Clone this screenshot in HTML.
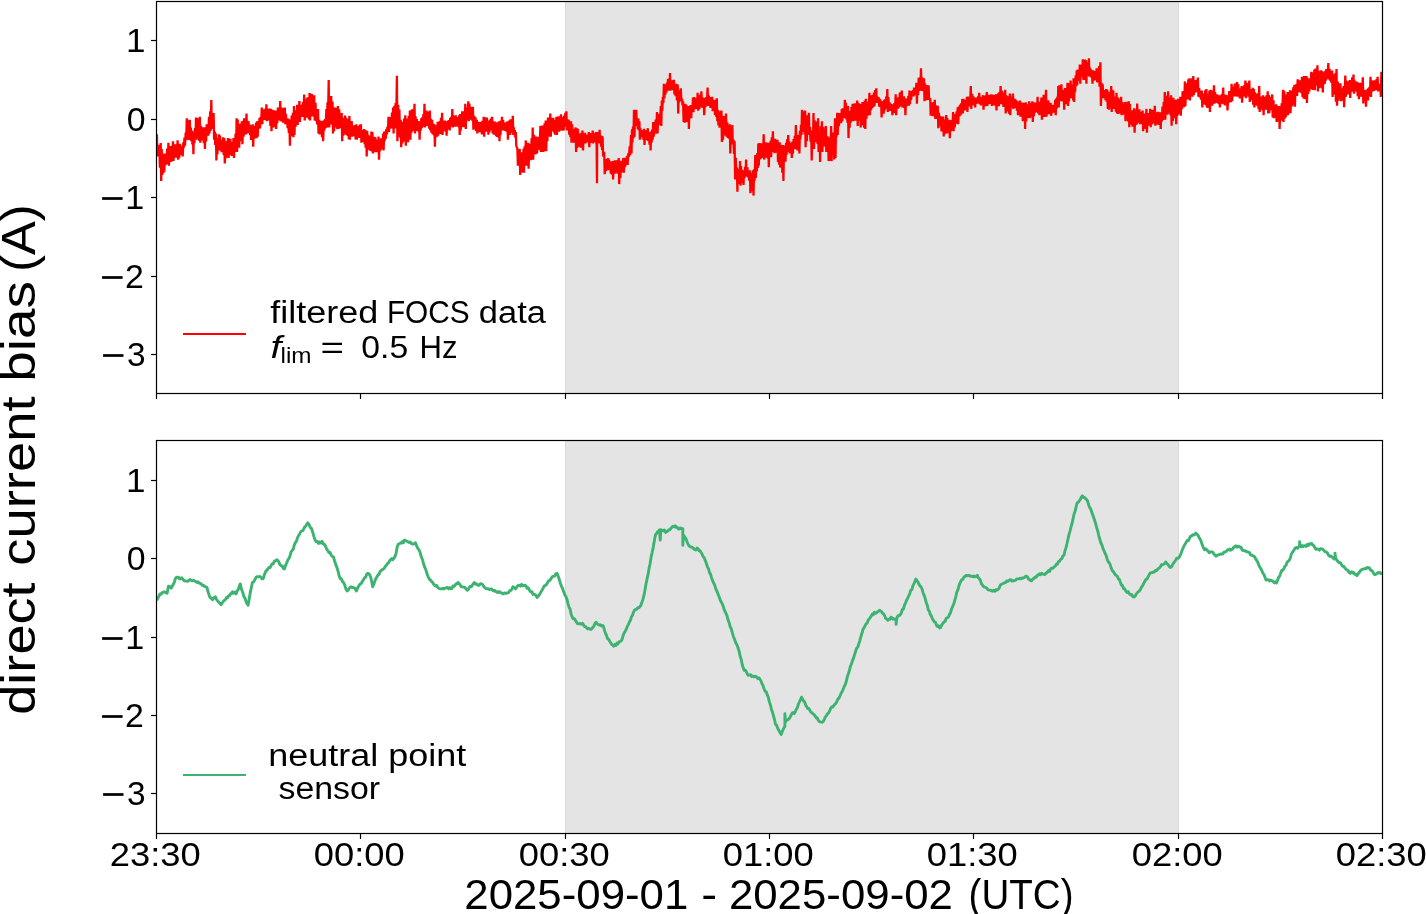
<!DOCTYPE html><html><head><meta charset="utf-8"><style>html,body{margin:0;padding:0;background:#fff;overflow:hidden;}svg{display:block;}text{font-family:"Liberation Sans",sans-serif;fill:#000;}svg{will-change:transform;}</style></head><body>
<svg width="1426" height="914" viewBox="0 0 1426 914">
<rect x="0" y="0" width="1426" height="914" fill="#fff"/>
<rect x="565" y="1" width="614" height="393" fill="#e4e4e4"/>
<rect x="565" y="1" width="1" height="393" fill="#d9d9d9"/>
<rect x="1178" y="1" width="1" height="393" fill="#d9d9d9"/>
<rect x="565" y="440" width="614" height="394" fill="#e4e4e4"/>
<rect x="565" y="440" width="1" height="394" fill="#d9d9d9"/>
<rect x="1178" y="440" width="1" height="394" fill="#d9d9d9"/>
<defs><clipPath id="c1"><rect x="156.5" y="1.4" width="1225.9" height="392.0"/></clipPath><clipPath id="c2"><rect x="156.5" y="440.7" width="1225.9" height="392.40000000000003"/></clipPath></defs>
<path d="M156.9,134.3 L157.4,156.5 L158.2,144.7 L158.7,156.1 L159.4,146.7 L159.9,167.6 L160.7,143.0 L161.2,181.0 L161.7,149.1 L162.2,174.9 L162.8,154.0 L163.3,173.2 L163.8,153.5 L164.3,171.8 L165.0,153.5 L165.5,165.3 L166.1,154.6 L166.6,163.8 L167.2,148.6 L167.8,164.3 L168.4,142.7 L168.9,165.7 L169.6,146.1 L170.1,159.1 L170.7,147.6 L171.2,161.9 L171.8,145.9 L172.3,158.4 L173.0,141.2 L173.5,161.0 L174.2,145.3 L174.7,157.4 L175.3,144.3 L175.8,157.8 L176.4,145.1 L176.9,155.0 L177.6,140.4 L178.1,159.6 L178.8,145.1 L179.2,157.9 L179.9,143.9 L180.4,155.2 L181.0,147.5 L181.5,155.0 L182.2,145.8 L182.7,156.5 L183.3,142.4 L183.8,147.7 L184.5,137.6 L185.0,145.6 L185.7,132.5 L186.2,140.1 L186.8,118.2 L187.3,139.7 L187.8,122.3 L188.3,139.4 L188.8,120.3 L189.3,139.9 L189.8,119.8 L190.3,139.7 L190.8,127.6 L191.3,141.1 L191.9,130.6 L192.4,144.5 L192.9,133.5 L193.4,154.2 L193.9,131.8 L194.4,143.1 L195.0,128.1 L195.5,138.8 L196.0,117.5 L196.5,139.7 L197.3,118.1 L197.8,136.0 L198.5,122.6 L199.0,140.7 L199.8,116.7 L200.3,142.7 L201.0,125.7 L201.5,140.4 L202.1,127.2 L202.6,139.2 L203.2,128.4 L203.8,143.2 L204.4,127.4 L204.9,148.9 L205.6,128.8 L206.1,141.5 L206.7,124.3 L207.2,135.1 L207.8,125.6 L208.3,135.6 L209.0,116.7 L209.5,133.5 L210.2,111.3 L210.7,130.9 L211.3,100.1 L211.8,129.0 L212.4,114.5 L212.9,127.5 L213.6,112.9 L214.1,139.7 L214.8,131.5 L215.2,144.9 L215.9,133.5 L216.4,160.4 L216.9,138.0 L217.4,154.2 L217.9,138.4 L218.4,148.1 L218.9,134.3 L219.4,150.4 L220.0,135.6 L220.5,148.2 L221.1,141.2 L221.6,152.2 L222.1,139.9 L222.6,151.9 L223.2,137.4 L223.7,154.9 L224.3,138.1 L224.8,163.4 L225.6,143.4 L226.1,158.2 L226.8,140.9 L227.3,156.2 L228.1,138.1 L228.6,158.0 L229.2,141.8 L229.7,152.6 L230.3,138.7 L230.8,154.9 L231.3,142.0 L231.8,156.0 L232.4,142.3 L232.9,153.3 L233.5,138.1 L234.0,158.0 L234.5,138.5 L235.0,152.2 L235.6,133.5 L236.1,150.0 L236.6,118.2 L237.1,151.9 L237.7,119.6 L238.2,144.6 L238.7,125.3 L239.2,147.7 L239.8,123.9 L240.3,141.1 L240.8,123.5 L241.3,139.4 L241.9,121.3 L242.4,144.3 L243.1,120.7 L243.6,136.6 L244.2,118.4 L244.7,134.3 L245.3,120.5 L245.8,134.5 L246.5,113.6 L247.0,133.5 L247.5,120.8 L248.0,133.1 L248.6,121.4 L249.1,132.5 L249.6,124.5 L250.1,135.1 L250.6,125.4 L251.1,139.9 L251.7,126.6 L252.2,139.0 L252.7,124.3 L253.2,146.6 L253.8,125.8 L254.3,138.6 L254.9,127.8 L255.4,136.0 L256.1,122.6 L256.6,138.1 L257.2,121.3 L257.7,136.6 L258.4,121.0 L258.9,128.6 L259.5,118.1 L260.0,128.5 L260.6,116.9 L261.1,124.1 L261.8,107.5 L262.3,124.3 L262.9,109.2 L263.4,119.7 L264.1,109.4 L264.6,119.9 L265.2,108.8 L265.8,120.1 L266.4,104.4 L266.9,121.3 L267.5,108.6 L268.0,119.3 L268.7,109.3 L269.2,120.4 L269.9,108.5 L270.4,125.9 L271.0,109.0 L271.5,131.2 L272.1,109.8 L272.6,127.7 L273.3,110.0 L273.8,124.8 L274.5,112.3 L275.0,127.3 L275.6,110.6 L276.1,129.0 L276.8,112.0 L277.2,123.2 L277.9,107.5 L278.4,120.4 L279.1,109.3 L279.6,118.0 L280.2,101.0 L280.7,121.3 L281.4,107.6 L281.9,121.4 L282.5,108.4 L283.0,122.8 L283.6,108.1 L284.1,122.4 L284.8,107.5 L285.3,124.3 L285.9,113.9 L286.4,124.5 L287.1,118.2 L287.6,128.3 L288.2,118.6 L288.8,133.0 L289.4,121.3 L289.9,145.8 L290.5,119.6 L291.0,136.2 L291.7,115.5 L292.2,135.7 L292.9,112.9 L293.4,137.2 L294.0,106.0 L294.5,135.0 L295.1,110.5 L295.6,126.6 L296.2,110.4 L296.7,122.1 L297.2,104.7 L297.7,124.9 L298.3,107.8 L298.8,119.2 L299.4,101.0 L299.9,122.0 L300.6,105.1 L301.1,115.5 L301.8,104.8 L302.3,117.0 L303.0,102.0 L303.5,114.8 L304.2,94.5 L304.7,120.5 L305.3,99.5 L305.8,117.1 L306.4,99.0 L306.9,117.8 L307.4,97.3 L307.9,116.1 L308.5,99.4 L309.0,119.4 L309.6,92.9 L310.1,120.5 L310.8,93.8 L311.2,114.0 L311.9,94.1 L312.4,116.4 L313.1,100.8 L313.6,115.5 L314.2,95.2 L314.7,120.5 L315.5,102.9 L316.0,121.3 L316.7,109.5 L317.2,124.4 L318.0,109.0 L318.5,133.5 L319.1,119.7 L319.6,134.4 L320.3,121.4 L320.8,132.8 L321.5,120.9 L322.0,137.2 L322.6,122.8 L323.1,141.2 L323.9,120.3 L324.4,130.5 L325.1,119.0 L325.6,128.3 L326.4,109.0 L326.9,127.4 L327.5,102.3 L328.0,121.2 L328.7,79.9 L329.2,127.4 L330.0,100.7 L330.5,122.7 L331.2,96.0 L331.7,124.7 L332.5,101.4 L333.0,133.5 L333.6,107.2 L334.1,131.2 L334.7,107.5 L335.2,127.4 L335.7,107.7 L336.2,126.3 L336.8,111.9 L337.3,129.1 L337.9,106.0 L338.4,129.0 L339.2,109.4 L339.7,128.2 L340.4,114.9 L340.9,128.3 L341.7,112.9 L342.2,141.2 L342.8,117.9 L343.3,135.8 L343.9,121.3 L344.4,134.4 L345.0,115.5 L345.5,134.2 L346.1,117.6 L346.6,134.9 L347.2,119.1 L347.7,135.9 L348.3,121.9 L348.8,139.1 L349.4,115.9 L349.9,139.7 L350.5,123.9 L351.0,134.2 L351.7,121.0 L352.2,136.7 L352.9,125.5 L353.4,136.1 L354.0,126.8 L354.5,135.5 L355.1,125.1 L355.6,139.4 L356.3,124.3 L356.8,139.7 L357.4,126.0 L357.9,136.6 L358.6,126.1 L359.1,137.9 L359.8,124.5 L360.2,137.0 L360.9,124.3 L361.4,142.7 L362.0,130.3 L362.5,142.0 L363.0,130.1 L363.5,141.5 L364.1,129.0 L364.6,144.1 L365.1,130.1 L365.6,147.8 L366.2,130.5 L366.7,156.5 L367.2,131.0 L367.7,149.1 L368.3,134.8 L368.8,149.6 L369.3,136.2 L369.8,150.6 L370.3,136.2 L370.8,148.2 L371.4,131.5 L371.9,151.4 L372.4,132.0 L372.9,153.5 L373.4,138.6 L373.9,149.3 L374.4,136.7 L374.9,152.2 L375.4,137.4 L375.9,151.9 L376.5,141.1 L377.0,152.3 L377.5,139.5 L378.0,151.5 L378.5,136.6 L379.0,159.6 L379.6,140.9 L380.1,151.1 L380.8,138.2 L381.3,149.5 L382.0,138.8 L382.5,148.5 L383.1,133.5 L383.6,150.4 L384.2,131.6 L384.7,141.0 L385.3,131.4 L385.8,138.6 L386.3,129.1 L386.8,134.4 L387.4,126.8 L387.9,132.2 L388.5,116.7 L389.0,132.0 L389.6,117.1 L390.1,128.8 L390.8,117.0 L391.3,128.4 L392.0,112.5 L392.5,127.5 L393.1,107.5 L393.6,133.5 L394.4,105.9 L394.9,126.9 L395.6,103.0 L396.1,128.4 L396.9,75.8 L397.4,141.2 L398.2,104.8 L398.7,130.9 L399.4,109.4 L399.9,137.4 L400.7,119.8 L401.2,147.3 L401.9,126.6 L402.4,143.5 L403.0,121.7 L403.5,139.8 L404.1,118.5 L404.6,141.6 L405.3,115.2 L405.8,145.8 L406.4,118.6 L406.9,138.9 L407.6,118.6 L408.1,142.1 L408.8,116.0 L409.2,134.6 L409.9,110.6 L410.4,139.7 L411.0,110.2 L411.5,132.6 L412.2,109.4 L412.7,130.9 L413.4,113.5 L413.9,127.0 L414.5,103.7 L415.0,133.5 L415.6,116.4 L416.1,130.9 L416.8,119.1 L417.3,130.9 L418.0,121.0 L418.5,131.7 L419.1,121.3 L419.6,139.7 L420.2,121.3 L420.7,130.7 L421.3,118.2 L421.8,128.2 L422.3,117.3 L422.8,126.8 L423.4,114.0 L423.9,124.9 L424.5,103.7 L425.0,127.4 L425.6,111.4 L426.1,122.9 L426.6,110.6 L427.1,126.0 L427.7,113.5 L428.2,124.7 L428.7,111.8 L429.2,128.7 L429.8,110.6 L430.3,130.5 L430.9,118.8 L431.4,132.6 L432.1,119.8 L432.6,134.1 L433.2,123.6 L433.8,135.2 L434.4,124.3 L434.9,146.6 L435.5,125.3 L436.0,136.9 L436.6,125.9 L437.1,136.7 L437.7,121.8 L438.2,135.6 L438.8,124.5 L439.3,134.0 L439.9,121.1 L440.4,133.6 L441.0,117.7 L441.5,134.0 L442.1,112.9 L442.6,135.0 L443.1,120.7 L443.6,130.2 L444.1,120.6 L444.6,130.7 L445.1,120.5 L445.6,131.8 L446.1,121.3 L446.6,135.8 L447.1,121.3 L447.6,129.5 L448.2,120.6 L448.7,129.4 L449.2,120.0 L449.7,130.4 L450.2,117.8 L450.7,125.6 L451.3,116.9 L451.8,126.8 L452.3,109.0 L452.8,127.4 L453.4,115.4 L453.9,125.1 L454.6,116.4 L455.1,126.7 L455.8,115.4 L456.2,126.4 L456.9,117.4 L457.4,126.5 L458.1,117.0 L458.6,127.3 L459.2,115.2 L459.7,135.0 L460.2,114.0 L460.7,130.6 L461.2,114.5 L461.7,126.8 L462.2,111.4 L462.8,127.2 L463.3,114.0 L463.8,127.2 L464.3,111.2 L464.8,124.3 L465.3,103.7 L465.8,129.0 L466.3,108.0 L466.8,120.3 L467.3,107.5 L467.8,118.3 L468.3,101.4 L468.8,121.3 L469.4,103.6 L469.9,118.7 L470.6,106.8 L471.1,119.7 L471.8,109.0 L472.2,120.6 L472.9,106.7 L473.4,129.7 L474.2,115.9 L474.7,128.6 L475.5,117.2 L476.0,130.9 L476.8,119.8 L477.3,133.5 L477.9,121.9 L478.4,130.8 L479.1,122.1 L479.6,132.1 L480.2,122.8 L480.8,131.9 L481.4,121.8 L481.9,134.4 L482.6,120.9 L483.1,131.2 L483.7,116.7 L484.2,136.6 L484.8,117.2 L485.2,130.9 L485.8,121.1 L486.3,131.8 L486.9,117.5 L487.4,131.6 L487.9,121.3 L488.4,134.6 L488.9,120.7 L489.4,132.4 L490.0,119.7 L490.5,130.5 L491.1,118.4 L491.6,129.7 L492.1,116.7 L492.6,133.5 L493.2,122.4 L493.8,134.7 L494.4,121.3 L494.9,133.4 L495.6,123.8 L496.1,136.1 L496.7,122.2 L497.2,137.0 L497.9,124.0 L498.4,137.5 L499.0,121.3 L499.5,141.2 L500.0,122.0 L500.5,135.3 L501.0,120.6 L501.5,129.5 L502.0,116.7 L502.5,130.5 L503.1,120.1 L503.6,128.3 L504.2,122.2 L504.7,130.8 L505.2,123.6 L505.7,131.0 L506.3,122.6 L506.8,132.0 L507.4,121.3 L507.9,139.7 L508.5,124.0 L509.0,134.1 L509.6,120.3 L510.1,134.9 L510.6,119.2 L511.1,131.7 L511.7,122.7 L512.2,132.6 L512.8,115.9 L513.3,135.0 L513.8,127.4 L514.3,135.3 L514.8,130.1 L515.3,137.7 L515.8,132.0 L516.3,145.8 L517.4,148.9 L517.9,165.7 L518.5,149.0 L519.0,164.2 L519.7,148.9 L520.2,174.9 L521.0,152.3 L521.5,167.6 L522.2,155.1 L522.7,172.7 L523.5,148.9 L524.0,172.6 L524.6,146.3 L525.1,162.2 L525.8,140.4 L526.3,165.7 L527.0,148.4 L527.5,163.3 L528.1,142.7 L528.6,168.8 L529.2,146.5 L529.8,159.3 L530.4,143.7 L530.9,160.3 L531.6,138.2 L532.1,158.5 L532.7,127.4 L533.2,159.6 L534.0,134.9 L534.5,150.4 L535.2,136.7 L535.7,154.4 L536.5,136.6 L537.0,153.5 L537.8,138.7 L538.3,148.4 L539.1,136.8 L539.6,149.9 L540.4,125.9 L540.9,151.9 L541.5,131.2 L542.0,145.8 L542.5,125.4 L543.0,152.0 L543.6,126.9 L544.1,151.6 L544.6,123.2 L545.1,145.3 L545.7,120.5 L546.2,151.2 L546.9,123.7 L547.4,141.3 L548.0,117.5 L548.5,136.8 L549.1,122.0 L549.6,135.3 L550.3,113.6 L550.8,136.6 L551.3,117.9 L551.8,130.8 L552.3,120.7 L552.8,131.0 L553.3,117.7 L553.8,132.4 L554.4,121.3 L554.9,134.6 L555.4,120.1 L555.9,133.0 L556.4,116.7 L556.9,135.0 L557.5,116.8 L558.0,128.4 L558.7,116.3 L559.2,131.7 L559.9,118.2 L560.4,127.5 L561.0,114.4 L561.5,130.5 L562.1,117.1 L562.6,130.8 L563.2,117.8 L563.7,130.5 L564.2,115.5 L564.7,126.5 L565.3,112.7 L565.8,126.7 L566.4,111.3 L566.9,130.5 L567.5,119.3 L568.0,130.2 L568.7,119.8 L569.2,134.6 L569.9,123.6 L570.4,137.1 L571.0,121.3 L571.5,142.7 L572.1,124.4 L572.6,139.3 L573.3,128.7 L573.8,142.6 L574.5,131.5 L575.0,142.8 L575.6,127.4 L576.1,151.9 L576.8,128.3 L577.2,147.9 L577.9,128.8 L578.4,146.8 L579.0,133.6 L579.5,145.4 L580.2,135.4 L580.7,147.7 L581.4,132.7 L581.9,145.9 L582.5,130.5 L583.0,150.4 L583.8,134.8 L584.2,143.4 L585.0,132.8 L585.5,143.5 L586.3,134.5 L586.8,141.6 L587.5,135.9 L588.0,142.3 L588.8,132.0 L589.3,147.3 L590.1,133.1 L590.6,142.3 L591.4,134.1 L591.9,142.9 L592.7,130.5 L593.2,143.5 L593.7,133.2 L594.2,142.2 L594.8,133.2 L595.3,142.0 L595.8,132.0 L596.3,143.5 L596.5,132.0 L597.0,183.3 L597.2,132.0 L597.7,143.5 L598.4,133.0 L598.9,140.8 L599.6,129.7 L600.1,143.5 L600.6,135.6 L601.1,146.8 L601.6,135.7 L602.1,149.9 L602.6,136.6 L603.1,156.5 L604.2,151.9 L604.7,174.1 L605.5,159.4 L606.0,171.3 L606.7,159.0 L607.2,169.1 L608.0,158.0 L608.5,170.3 L609.1,159.5 L609.6,170.3 L610.3,161.6 L610.8,173.7 L611.5,162.2 L612.0,174.6 L612.6,161.1 L613.1,179.5 L613.8,161.6 L614.2,173.6 L614.9,160.4 L615.4,173.4 L616.2,161.9 L616.7,172.3 L617.4,160.1 L617.9,173.8 L618.7,158.0 L619.2,184.1 L619.9,162.1 L620.4,178.0 L621.0,160.8 L621.5,172.5 L622.1,161.1 L622.6,171.8 L623.3,158.0 L623.8,172.6 L624.6,157.7 L625.1,167.0 L625.8,158.5 L626.3,164.4 L627.1,155.8 L627.6,165.0 L628.4,153.0 L628.9,156.9 L629.7,146.4 L630.2,155.1 L631.0,135.0 L631.5,153.5 L632.0,129.3 L632.5,142.4 L633.0,126.5 L633.5,138.3 L634.0,109.8 L634.5,136.6 L635.1,112.0 L635.6,124.9 L636.3,109.8 L636.8,125.9 L637.3,118.4 L637.8,129.1 L638.4,118.5 L638.9,130.5 L639.4,121.3 L639.9,139.7 L640.5,128.3 L641.0,137.4 L641.7,130.2 L642.2,137.4 L642.9,131.0 L643.4,139.7 L644.0,128.9 L644.5,145.0 L645.3,130.4 L645.8,140.2 L646.5,130.5 L647.0,139.9 L647.8,128.2 L648.3,141.2 L649.0,133.7 L649.5,144.6 L650.1,132.0 L650.6,150.4 L651.1,131.6 L651.6,142.8 L652.2,129.5 L652.7,139.6 L653.2,122.0 L653.7,136.6 L654.5,123.3 L655.0,131.6 L655.7,119.5 L656.2,133.6 L657.0,112.1 L657.5,133.5 L658.3,114.8 L658.8,124.8 L659.5,113.7 L660.0,125.0 L660.8,106.0 L661.3,125.9 L661.8,100.6 L662.3,111.0 L662.9,96.8 L663.4,102.9 L663.9,83.7 L664.4,98.3 L664.9,84.5 L665.4,94.7 L665.9,84.7 L666.4,92.4 L667.0,82.5 L667.5,90.7 L668.0,78.8 L668.5,90.4 L669.0,80.3 L669.5,89.5 L670.0,73.0 L670.5,90.6 L671.3,80.2 L671.8,89.7 L672.6,80.4 L673.1,90.2 L673.9,79.9 L674.4,94.5 L675.2,85.6 L675.7,96.2 L676.4,83.8 L676.9,100.4 L677.7,84.5 L678.2,113.6 L678.7,91.1 L679.2,102.4 L679.8,90.6 L680.3,101.3 L680.8,88.3 L681.3,99.8 L682.0,98.5 L682.5,105.3 L683.1,101.4 L683.6,122.0 L684.2,105.5 L684.7,122.8 L685.2,103.9 L685.7,120.3 L686.3,104.9 L686.8,121.9 L687.3,108.7 L687.8,122.1 L688.4,106.0 L688.9,128.9 L689.5,106.3 L690.0,118.4 L690.7,105.1 L691.2,118.3 L691.9,105.1 L692.4,112.3 L693.0,97.5 L693.5,112.1 L694.1,97.0 L694.6,109.1 L695.3,99.4 L695.8,108.9 L696.5,98.0 L697.0,108.7 L697.6,92.9 L698.1,110.6 L698.9,96.5 L699.4,109.1 L700.1,94.8 L700.6,105.4 L701.4,91.4 L701.9,107.5 L702.5,97.4 L703.0,107.9 L703.7,98.3 L704.2,115.2 L705.0,97.7 L705.5,107.1 L706.3,97.1 L706.8,105.0 L707.6,87.6 L708.1,106.0 L708.8,95.4 L709.2,103.5 L709.9,97.0 L710.4,107.9 L711.1,98.3 L711.6,106.2 L712.2,96.8 L712.7,111.3 L713.4,100.1 L713.9,109.8 L714.5,99.9 L715.0,115.0 L715.6,100.6 L716.1,116.8 L716.8,98.3 L717.3,121.3 L717.9,109.8 L718.4,125.4 L719.1,111.4 L719.6,127.7 L720.2,111.7 L720.8,126.3 L721.4,110.6 L721.9,142.0 L722.5,115.8 L723.0,139.9 L723.7,116.1 L724.2,135.4 L724.9,116.2 L725.4,133.8 L726.0,113.6 L726.5,136.6 L727.3,122.4 L727.8,138.0 L728.5,127.0 L729.0,138.8 L729.8,124.3 L730.3,153.5 L731.0,130.8 L731.5,141.9 L732.3,125.1 L732.8,144.3 L733.5,139.5 L734.0,154.0 L734.6,141.2 L735.1,179.5 L735.8,157.8 L736.2,179.3 L736.9,167.2 L737.4,191.8 L737.9,168.7 L738.4,183.9 L739.0,170.3 L739.5,183.3 L740.0,161.1 L740.5,185.6 L741.0,166.1 L741.5,183.1 L742.0,169.9 L742.5,181.8 L743.0,170.3 L743.5,184.9 L744.0,171.2 L744.5,178.3 L745.1,166.9 L745.6,175.9 L746.1,159.6 L746.6,176.4 L747.4,167.4 L747.9,177.4 L748.6,170.7 L749.1,180.6 L749.9,170.3 L750.4,193.3 L750.9,175.1 L751.4,188.5 L752.0,172.8 L752.5,191.1 L753.0,170.3 L753.5,195.6 L754.1,169.2 L754.6,180.8 L755.3,155.0 L755.8,178.0 L756.3,155.0 L756.8,171.5 L757.3,153.0 L757.8,168.0 L758.3,143.5 L758.8,165.7 L759.4,143.0 L759.9,159.5 L760.5,143.8 L761.0,158.6 L761.5,143.2 L762.0,157.6 L762.6,143.6 L763.1,156.1 L763.7,134.3 L764.2,159.6 L764.9,144.1 L765.4,154.9 L766.0,142.3 L766.5,157.5 L767.1,144.3 L767.6,158.5 L768.3,142.7 L768.8,167.2 L769.4,144.6 L769.9,156.1 L770.6,140.7 L771.1,157.1 L771.8,137.4 L772.2,151.5 L772.9,131.2 L773.4,151.9 L774.0,138.9 L774.5,153.3 L775.2,138.8 L775.7,151.8 L776.4,143.1 L776.9,152.6 L777.5,139.7 L778.0,161.9 L778.6,143.1 L779.1,164.6 L779.7,142.2 L780.2,167.6 L780.7,144.8 L781.2,163.8 L781.8,151.1 L782.3,172.8 L782.9,145.0 L783.4,181.0 L784.0,146.7 L784.5,161.8 L785.0,145.5 L785.5,161.7 L786.1,142.8 L786.6,154.8 L787.1,139.4 L787.6,151.6 L788.2,135.0 L788.7,151.9 L789.2,141.2 L789.7,153.5 L790.3,144.6 L790.8,152.3 L791.3,142.7 L791.8,158.0 L792.4,141.8 L792.9,153.8 L793.6,139.1 L794.1,148.9 L794.8,135.8 L795.2,148.1 L795.9,125.1 L796.4,148.9 L796.9,134.8 L797.4,150.4 L797.9,135.1 L798.4,147.9 L798.9,135.0 L799.4,153.5 L799.9,130.8 L800.4,139.2 L801.0,124.9 L801.5,134.9 L802.0,109.8 L802.5,132.0 L803.0,113.2 L803.5,129.9 L804.1,111.3 L804.6,134.2 L805.1,110.6 L805.6,147.3 L806.4,115.3 L806.9,141.1 L807.6,115.5 L808.1,132.1 L808.9,112.9 L809.4,135.0 L810.0,127.0 L810.5,141.6 L811.2,130.5 L811.7,160.4 L812.4,131.8 L812.9,149.1 L813.5,112.9 L814.0,148.9 L814.6,120.3 L815.1,141.5 L815.8,121.6 L816.3,141.9 L817.0,122.0 L817.5,144.0 L818.1,118.2 L818.6,151.9 L819.6,128.9 L820.1,161.9 L820.8,125.9 L821.2,148.6 L821.9,121.3 L822.4,151.9 L823.2,127.1 L823.7,146.7 L824.5,129.5 L825.0,145.4 L825.8,125.9 L826.3,151.9 L827.0,136.2 L827.5,151.2 L828.1,136.6 L828.6,161.1 L829.1,139.1 L829.6,159.8 L830.1,137.8 L830.6,161.0 L831.1,125.9 L831.6,161.1 L832.4,132.9 L832.9,151.9 L833.7,132.2 L834.2,159.6 L835.0,118.2 L835.5,158.0 L836.1,121.4 L836.6,136.9 L837.2,112.9 L837.7,135.0 L838.4,115.5 L838.9,126.2 L839.5,113.1 L840.0,122.2 L840.6,114.0 L841.1,123.1 L841.8,109.0 L842.3,121.3 L842.8,108.4 L843.3,118.2 L843.9,108.5 L844.4,116.0 L844.9,99.8 L845.4,118.2 L845.9,102.7 L846.4,119.4 L847.0,107.0 L847.5,122.8 L848.0,106.0 L848.5,138.1 L849.1,111.7 L849.6,127.6 L850.3,111.1 L850.8,122.5 L851.5,107.1 L852.0,119.1 L852.6,103.7 L853.1,121.3 L853.8,106.0 L854.2,120.2 L854.9,103.4 L855.4,120.7 L856.1,106.9 L856.6,120.6 L857.2,100.6 L857.7,125.9 L858.2,102.9 L858.7,120.2 L859.2,108.8 L859.7,120.7 L860.2,103.7 L860.7,127.4 L861.4,109.8 L861.9,121.8 L862.5,102.1 L863.0,125.1 L863.6,105.2 L864.1,127.8 L864.8,100.6 L865.3,128.9 L865.9,98.8 L866.4,118.6 L867.1,102.7 L867.6,115.8 L868.2,101.8 L868.8,112.0 L869.4,92.9 L869.9,115.2 L870.5,95.5 L871.0,110.3 L871.7,95.2 L872.2,108.1 L872.8,94.7 L873.3,107.0 L874.0,92.5 L874.5,106.1 L875.1,90.0 L875.6,101.0 L876.3,88.3 L876.8,102.9 L877.5,96.6 L878.0,102.7 L878.7,97.4 L879.2,106.6 L879.9,98.7 L880.4,107.3 L881.1,100.5 L881.6,117.4 L882.1,102.7 L882.6,110.8 L883.2,101.4 L883.7,113.7 L884.2,99.7 L884.7,110.4 L885.2,99.4 L885.7,108.7 L886.3,96.4 L886.8,108.1 L887.3,89.0 L887.8,112.0 L888.4,97.0 L888.9,109.5 L889.6,102.3 L890.1,110.9 L890.8,103.7 L891.2,110.5 L891.9,104.3 L892.4,115.1 L893.2,104.7 L893.7,111.6 L894.4,103.0 L894.9,113.2 L895.7,94.4 L896.2,115.1 L896.7,98.8 L897.2,108.5 L897.7,97.5 L898.2,108.7 L898.8,97.3 L899.2,107.2 L899.8,92.8 L900.3,106.1 L900.8,92.1 L901.3,106.3 L901.8,90.6 L902.3,107.4 L902.8,96.8 L903.3,107.1 L903.9,96.2 L904.4,108.2 L904.9,98.2 L905.4,115.1 L906.0,99.3 L906.5,106.4 L907.2,98.5 L907.7,104.9 L908.4,95.8 L908.9,105.7 L909.5,90.6 L910.0,104.3 L910.6,92.4 L911.1,99.9 L911.8,91.1 L912.3,96.1 L913.0,90.1 L913.5,96.5 L914.1,87.5 L914.6,95.2 L915.2,88.2 L915.8,95.0 L916.4,82.9 L916.9,103.6 L917.5,84.6 L918.0,95.3 L918.7,77.9 L919.2,90.9 L919.9,77.2 L920.4,89.3 L921.0,68.3 L921.5,90.6 L922.0,77.2 L922.5,91.0 L923.0,80.2 L923.5,91.3 L924.0,78.3 L924.5,101.3 L925.1,83.5 L925.6,98.4 L926.3,85.0 L926.8,100.1 L927.5,85.8 L928.0,96.8 L928.6,85.2 L929.1,99.8 L930.2,98.2 L930.7,115.8 L931.4,102.6 L931.9,111.8 L932.5,102.5 L933.0,116.2 L933.6,102.0 L934.1,114.5 L934.8,99.8 L935.3,118.9 L935.8,105.2 L936.3,116.2 L936.8,108.8 L937.3,118.9 L937.8,105.9 L938.3,128.1 L938.9,112.7 L939.4,125.0 L940.0,115.8 L940.5,126.3 L941.0,116.5 L941.5,131.5 L942.1,118.4 L942.6,129.4 L943.2,116.6 L943.7,136.5 L944.2,120.9 L944.7,134.2 L945.2,119.6 L945.7,129.9 L946.2,115.1 L946.7,133.5 L947.2,117.7 L947.7,131.7 L948.3,121.4 L948.8,133.1 L949.3,119.7 L949.8,138.1 L950.6,120.9 L951.1,131.2 L951.8,120.0 L952.3,129.7 L953.1,112.0 L953.6,131.2 L954.2,114.1 L954.8,127.5 L955.4,114.2 L955.9,123.6 L956.6,111.2 L957.1,123.3 L957.7,107.4 L958.2,124.3 L958.9,106.5 L959.4,116.5 L960.0,104.7 L960.5,115.4 L961.1,103.4 L961.6,113.6 L962.3,99.0 L962.8,113.5 L963.4,98.9 L963.9,110.6 L964.6,100.0 L965.1,109.9 L965.8,99.9 L966.2,109.5 L966.9,96.7 L967.4,112.0 L968.2,96.6 L968.7,106.3 L969.5,96.6 L970.0,106.5 L970.8,86.0 L971.3,108.9 L972.1,93.8 L972.6,104.9 L973.3,96.4 L973.8,105.1 L974.6,97.5 L975.1,107.4 L975.8,98.5 L976.2,103.9 L976.9,97.6 L977.4,103.3 L978.1,96.3 L978.6,102.9 L979.2,92.9 L979.7,104.3 L980.5,96.7 L981.0,105.5 L981.7,97.8 L982.2,104.2 L983.0,95.2 L983.5,109.7 L984.3,96.2 L984.8,104.5 L985.5,95.3 L986.0,106.2 L986.8,92.1 L987.3,105.9 L987.9,95.6 L988.4,104.1 L989.1,94.8 L989.6,103.6 L990.2,96.5 L990.8,103.9 L991.4,94.4 L991.9,105.9 L992.5,95.7 L993.0,104.5 L993.7,94.7 L994.2,105.2 L994.9,96.1 L995.4,105.7 L996.0,94.4 L996.5,110.5 L997.1,95.4 L997.6,104.4 L998.3,93.4 L998.8,106.1 L999.5,92.0 L1000.0,101.4 L1000.6,86.0 L1001.1,104.3 L1001.8,90.6 L1002.2,104.1 L1002.9,92.3 L1003.4,107.0 L1004.1,92.9 L1004.6,104.3 L1005.2,89.8 L1005.7,113.5 L1006.4,95.4 L1006.9,111.5 L1007.5,98.1 L1008.0,111.1 L1008.6,96.2 L1009.1,113.8 L1009.8,93.6 L1010.3,115.1 L1010.8,96.7 L1011.3,107.4 L1011.9,96.6 L1012.4,107.6 L1012.9,93.6 L1013.4,108.9 L1014.0,98.5 L1014.5,107.4 L1015.2,99.1 L1015.7,107.9 L1016.4,100.4 L1016.9,110.6 L1017.5,101.3 L1018.0,115.1 L1018.8,103.0 L1019.2,114.9 L1020.0,100.5 L1020.5,116.6 L1021.1,105.3 L1021.6,115.1 L1022.3,102.6 L1022.8,121.2 L1023.4,106.8 L1023.9,118.8 L1024.6,102.8 L1025.1,128.9 L1025.8,102.2 L1026.2,121.5 L1026.9,105.5 L1027.4,116.6 L1028.0,104.3 L1028.5,117.9 L1029.2,101.3 L1029.7,118.1 L1030.2,105.2 L1030.7,117.1 L1031.3,103.3 L1031.8,116.1 L1032.3,101.3 L1032.8,122.0 L1033.4,104.8 L1033.9,116.1 L1034.4,102.3 L1034.9,112.9 L1035.5,103.4 L1036.0,112.2 L1036.5,102.8 L1037.0,111.4 L1037.6,96.7 L1038.1,113.5 L1038.9,101.8 L1039.4,115.2 L1040.1,101.7 L1040.6,112.1 L1041.4,97.5 L1041.9,119.7 L1042.6,102.1 L1043.1,113.5 L1043.7,94.7 L1044.2,117.0 L1044.8,99.4 L1045.3,114.1 L1046.0,89.8 L1046.5,116.6 L1047.2,101.0 L1047.7,113.2 L1048.3,100.2 L1048.8,114.1 L1049.4,104.2 L1049.9,112.1 L1050.6,102.8 L1051.1,115.8 L1051.8,105.3 L1052.2,113.2 L1052.9,104.9 L1053.4,112.1 L1054.0,104.8 L1054.5,112.7 L1055.2,99.8 L1055.7,115.1 L1056.2,98.6 L1056.7,108.7 L1057.3,96.9 L1057.8,105.1 L1058.3,86.0 L1058.8,107.4 L1059.3,85.4 L1059.8,101.2 L1060.4,85.4 L1060.9,99.4 L1061.4,84.4 L1061.9,101.3 L1062.6,92.2 L1063.1,100.4 L1063.7,89.8 L1064.2,109.7 L1065.0,88.1 L1065.5,103.7 L1066.2,89.4 L1066.7,104.3 L1067.5,82.9 L1068.0,105.9 L1068.5,82.9 L1069.0,101.8 L1069.6,85.7 L1070.1,97.1 L1070.6,80.6 L1071.1,98.2 L1071.6,84.5 L1072.1,95.0 L1072.6,84.5 L1073.1,100.4 L1073.6,78.3 L1074.1,102.0 L1074.6,79.0 L1075.1,92.3 L1075.7,75.2 L1076.2,86.1 L1076.7,70.6 L1077.2,85.2 L1077.7,69.6 L1078.2,80.7 L1078.8,70.6 L1079.3,80.3 L1079.8,64.5 L1080.3,83.7 L1080.8,66.1 L1081.3,76.6 L1081.8,64.6 L1082.3,75.7 L1082.8,59.2 L1083.3,79.8 L1083.8,63.1 L1084.3,80.0 L1084.9,59.5 L1085.4,79.1 L1085.9,59.9 L1086.4,83.7 L1086.9,64.9 L1087.4,75.8 L1087.9,61.7 L1088.4,73.4 L1088.9,58.4 L1089.4,76.8 L1089.9,67.6 L1090.4,76.3 L1091.0,69.3 L1091.5,77.6 L1092.0,70.6 L1092.5,83.7 L1093.2,70.2 L1093.7,80.6 L1094.3,73.0 L1094.8,79.2 L1095.4,71.1 L1095.9,80.1 L1096.6,68.3 L1097.1,82.1 L1097.9,70.3 L1098.4,82.8 L1099.1,66.1 L1099.6,86.6 L1100.4,62.2 L1100.9,105.9 L1101.6,82.7 L1102.1,97.1 L1102.7,84.4 L1103.2,98.2 L1103.8,90.0 L1104.3,97.5 L1105.0,90.9 L1105.5,100.3 L1106.2,89.0 L1106.7,101.8 L1107.3,89.8 L1107.8,108.9 L1108.6,91.9 L1109.1,109.6 L1109.9,92.4 L1110.4,107.5 L1111.2,86.0 L1111.7,112.0 L1112.3,89.7 L1112.8,106.7 L1113.3,90.7 L1113.8,109.0 L1114.4,96.5 L1114.9,108.4 L1115.4,97.1 L1115.9,111.8 L1116.5,92.9 L1117.0,113.5 L1117.7,97.4 L1118.2,113.9 L1118.8,98.7 L1119.3,113.8 L1119.9,100.5 L1120.4,109.3 L1121.1,96.7 L1121.6,115.1 L1122.4,102.3 L1122.9,114.6 L1123.7,104.7 L1124.2,113.6 L1125.0,102.0 L1125.5,121.2 L1126.3,101.7 L1126.8,118.0 L1127.5,105.3 L1128.0,121.5 L1128.8,101.3 L1129.3,127.3 L1129.9,104.1 L1130.4,124.6 L1130.9,111.0 L1131.4,123.7 L1132.0,110.4 L1132.5,126.6 L1133.0,113.4 L1133.5,126.5 L1134.1,108.2 L1134.6,132.7 L1135.1,110.2 L1135.6,125.1 L1136.2,109.6 L1136.7,124.5 L1137.2,103.6 L1137.7,122.7 L1138.3,111.1 L1138.8,119.6 L1139.4,109.4 L1139.9,124.3 L1140.4,112.8 L1140.9,121.4 L1141.5,111.8 L1142.0,123.9 L1142.6,110.5 L1143.1,131.2 L1143.9,113.5 L1144.4,127.2 L1145.1,114.1 L1145.6,129.0 L1146.4,108.9 L1146.9,132.7 L1147.7,114.1 L1148.2,125.7 L1148.9,113.1 L1149.4,123.4 L1150.2,108.9 L1150.7,127.3 L1151.3,111.9 L1151.8,124.5 L1152.5,109.8 L1153.0,123.2 L1153.7,112.3 L1154.2,122.9 L1154.8,105.9 L1155.3,125.8 L1155.9,112.2 L1156.4,123.0 L1157.0,114.0 L1157.5,124.7 L1158.0,111.9 L1158.5,124.0 L1159.1,112.4 L1159.6,124.9 L1160.2,113.5 L1160.7,128.9 L1161.3,112.4 L1161.8,121.5 L1162.5,106.6 L1163.0,119.9 L1163.7,102.0 L1164.2,116.4 L1164.8,92.1 L1165.3,119.7 L1165.9,97.6 L1166.4,112.0 L1167.0,95.8 L1167.5,114.7 L1168.1,91.3 L1168.6,113.5 L1169.1,99.4 L1169.6,110.3 L1170.1,97.4 L1170.6,115.5 L1171.1,95.2 L1171.6,125.8 L1172.2,104.4 L1172.8,121.0 L1173.4,97.9 L1173.9,118.3 L1174.5,103.5 L1175.0,118.1 L1175.7,99.8 L1176.2,124.3 L1176.8,104.8 L1177.3,115.9 L1178.0,98.8 L1178.5,114.3 L1179.2,102.0 L1179.7,114.1 L1180.3,96.7 L1180.8,115.8 L1181.5,97.0 L1182.0,109.0 L1182.6,91.2 L1183.1,106.8 L1183.8,91.1 L1184.2,107.2 L1184.9,81.4 L1185.4,105.9 L1186.1,83.3 L1186.6,97.3 L1187.2,86.0 L1187.7,99.4 L1188.3,79.4 L1188.8,96.5 L1189.5,78.3 L1190.0,100.5 L1190.8,81.7 L1191.3,94.2 L1192.0,78.2 L1192.5,96.6 L1193.3,76.0 L1193.8,95.2 L1194.5,80.1 L1195.0,92.6 L1195.6,81.7 L1196.1,92.3 L1196.8,79.7 L1197.2,90.9 L1197.9,77.5 L1198.4,96.7 L1199.2,88.1 L1199.7,97.4 L1200.5,91.3 L1201.0,99.8 L1201.8,90.6 L1202.3,107.4 L1203.0,93.8 L1203.5,103.2 L1204.1,93.6 L1204.6,104.5 L1205.2,90.2 L1205.8,105.3 L1206.4,89.0 L1206.9,107.4 L1207.4,94.8 L1207.9,108.0 L1208.4,93.6 L1208.9,105.4 L1209.4,90.6 L1209.9,112.0 L1210.6,89.8 L1211.1,103.0 L1211.7,90.5 L1212.2,105.8 L1212.8,91.7 L1213.3,101.8 L1214.0,85.2 L1214.5,103.6 L1215.1,92.1 L1215.6,102.6 L1216.2,94.7 L1216.7,102.7 L1217.2,94.2 L1217.7,103.1 L1218.3,96.5 L1218.8,104.3 L1219.4,95.2 L1219.9,107.4 L1220.7,95.3 L1221.2,104.0 L1221.9,94.1 L1222.4,102.2 L1223.2,87.5 L1223.7,104.3 L1224.5,94.5 L1225.0,105.4 L1225.7,94.8 L1226.2,104.3 L1227.0,95.2 L1227.5,110.5 L1228.2,96.2 L1228.7,102.9 L1229.3,91.0 L1229.8,101.9 L1230.4,92.2 L1230.9,102.3 L1231.6,83.7 L1232.1,101.3 L1232.7,87.0 L1233.2,96.5 L1233.8,86.6 L1234.3,96.0 L1234.8,83.6 L1235.3,96.5 L1235.9,84.8 L1236.4,95.6 L1237.0,82.1 L1237.5,96.7 L1238.2,84.1 L1238.7,94.6 L1239.3,88.5 L1239.8,98.4 L1240.4,88.8 L1240.9,96.4 L1241.6,86.0 L1242.1,102.8 L1242.9,86.7 L1243.4,96.6 L1244.1,85.2 L1244.6,95.1 L1245.4,80.6 L1245.9,98.2 L1246.7,82.9 L1247.2,94.4 L1248.0,84.1 L1248.5,96.8 L1249.3,80.6 L1249.8,102.0 L1250.5,89.0 L1251.0,100.3 L1251.6,89.7 L1252.1,100.0 L1252.8,87.9 L1253.2,104.8 L1253.9,89.0 L1254.4,107.4 L1255.0,92.2 L1255.5,103.6 L1256.0,93.8 L1256.5,105.1 L1257.1,93.5 L1257.6,106.1 L1258.1,93.2 L1258.6,109.1 L1259.2,86.0 L1259.7,112.0 L1260.5,96.6 L1261.0,108.3 L1261.8,96.6 L1262.3,110.2 L1263.1,95.2 L1263.6,115.1 L1264.2,98.8 L1264.8,109.8 L1265.4,96.7 L1265.9,109.6 L1266.5,95.3 L1267.0,109.1 L1267.7,91.3 L1268.2,113.5 L1268.8,95.1 L1269.3,113.1 L1270.0,96.8 L1270.5,110.3 L1271.1,99.0 L1271.6,109.9 L1272.2,94.4 L1272.7,117.4 L1273.5,100.4 L1274.0,118.2 L1274.8,106.3 L1275.3,115.8 L1276.1,104.3 L1276.6,122.0 L1277.1,105.8 L1277.6,121.5 L1278.1,106.5 L1278.6,120.6 L1279.1,105.9 L1279.6,128.9 L1280.4,106.5 L1280.9,120.3 L1281.7,103.3 L1282.2,120.7 L1283.0,89.8 L1283.5,122.0 L1284.2,90.8 L1284.7,118.7 L1285.3,94.5 L1285.8,117.3 L1286.4,94.5 L1286.9,112.2 L1287.6,92.1 L1288.1,115.1 L1288.8,96.7 L1289.3,109.5 L1290.0,90.4 L1290.5,113.3 L1291.1,94.4 L1291.6,106.8 L1292.2,90.6 L1292.7,105.5 L1293.3,87.2 L1293.8,103.3 L1294.4,84.9 L1294.9,106.8 L1295.5,85.7 L1296.0,95.8 L1296.6,83.9 L1297.1,95.9 L1297.7,79.4 L1298.2,92.5 L1298.8,81.7 L1299.3,91.5 L1299.8,80.3 L1300.3,91.9 L1300.9,82.1 L1301.4,93.1 L1302.0,76.7 L1302.5,96.9 L1303.1,82.4 L1303.6,98.4 L1304.2,76.1 L1304.7,99.1 L1305.3,77.3 L1305.8,93.9 L1306.4,76.1 L1306.9,102.9 L1307.6,77.7 L1308.1,93.9 L1308.8,79.8 L1309.3,91.4 L1310.1,78.6 L1310.6,87.5 L1311.3,71.7 L1311.8,89.3 L1312.3,75.7 L1312.8,90.0 L1313.3,72.6 L1313.8,89.5 L1314.3,69.8 L1314.8,90.1 L1315.4,68.6 L1315.9,84.8 L1316.4,72.2 L1316.9,85.7 L1317.4,65.2 L1317.9,91.4 L1318.6,70.5 L1319.1,88.1 L1319.8,74.6 L1320.3,85.8 L1321.1,70.4 L1321.6,88.1 L1322.3,71.2 L1322.8,92.5 L1323.3,74.8 L1323.8,84.3 L1324.3,72.2 L1324.8,83.8 L1325.3,70.7 L1325.8,80.6 L1326.3,69.0 L1326.8,79.3 L1327.3,70.0 L1327.8,77.0 L1328.3,63.0 L1328.8,79.4 L1329.6,68.9 L1330.1,80.7 L1330.8,73.2 L1331.3,82.8 L1332.1,70.6 L1332.6,96.9 L1333.2,74.2 L1333.7,91.0 L1334.3,76.6 L1334.8,94.6 L1335.4,73.1 L1335.9,101.7 L1336.5,69.0 L1337.0,105.7 L1337.8,81.5 L1338.3,100.7 L1339.1,83.6 L1339.6,97.6 L1340.4,83.2 L1340.9,101.3 L1341.5,88.4 L1342.0,99.7 L1342.5,89.4 L1343.0,100.7 L1343.6,86.0 L1344.1,107.3 L1345.3,75.6 L1345.8,96.9 L1346.4,80.9 L1346.9,94.8 L1347.5,81.3 L1348.0,93.7 L1348.6,83.8 L1349.1,94.1 L1349.7,80.0 L1350.2,98.0 L1351.0,81.8 L1351.5,91.7 L1352.2,77.2 L1352.7,91.8 L1353.5,74.5 L1354.0,93.6 L1354.7,80.3 L1355.2,90.2 L1356.0,81.9 L1356.5,91.5 L1357.2,81.7 L1357.7,96.1 L1358.4,82.7 L1358.9,99.1 L1359.5,85.1 L1360.0,95.2 L1360.6,82.8 L1361.1,96.7 L1361.7,82.7 L1362.2,96.0 L1362.8,77.2 L1363.3,103.5 L1364.2,89.8 L1364.7,100.2 L1365.5,90.4 L1366.0,106.8 L1366.5,91.5 L1367.0,98.6 L1367.5,89.1 L1368.0,100.5 L1368.5,88.1 L1369.0,96.2 L1369.5,86.8 L1370.0,96.3 L1370.5,76.7 L1371.0,96.9 L1371.5,80.3 L1372.0,91.7 L1372.5,81.4 L1373.0,90.5 L1373.5,80.5 L1374.0,90.9 L1374.6,80.2 L1375.1,90.2 L1375.6,80.5 L1376.1,90.1 L1376.6,79.1 L1377.1,87.9 L1377.6,76.7 L1378.1,91.4 L1378.9,83.8 L1379.4,91.1 L1380.3,83.8 L1380.8,96.9 L1381.4,71.7 L1381.4,92.5" fill="none" stroke="#ff0000" stroke-width="2.3" stroke-linejoin="miter" stroke-miterlimit="2" clip-path="url(#c1)"/>
<path d="M156.8,600.3 L157.9,598.1 L158.9,596.2 L160.0,593.9 L161.1,594.3 L162.1,592.7 L163.1,592.3 L164.2,591.7 L165.6,592.6 L167.1,593.2 L168.5,586.1 L169.9,586.5 L171.3,588.2 L172.3,586.1 L173.3,584.2 L174.3,582.4 L175.3,578.7 L176.3,577.5 L177.4,577.3 L178.4,577.1 L179.5,578.9 L180.6,578.9 L181.6,577.7 L182.7,578.9 L183.8,580.5 L184.8,581.0 L185.9,580.9 L187.0,581.1 L188.1,581.2 L189.2,580.0 L190.2,579.5 L191.3,580.4 L192.4,580.9 L193.5,580.3 L194.7,581.0 L195.8,581.5 L196.9,582.5 L198.0,581.8 L199.1,583.1 L200.1,583.4 L201.2,583.9 L202.3,585.4 L203.5,585.4 L204.6,586.4 L205.8,586.8 L206.9,587.5 L208.3,592.5 L209.7,596.7 L211.1,598.1 L212.6,599.6 L214.0,597.7 L215.4,596.7 L216.5,599.4 L217.7,601.0 L218.8,602.2 L220.0,603.5 L221.1,604.6 L222.2,602.9 L223.2,601.5 L224.3,600.4 L225.4,599.6 L226.4,597.5 L227.4,597.9 L228.4,596.0 L229.5,595.8 L230.5,593.7 L231.5,593.8 L232.5,591.7 L233.7,593.2 L234.9,592.1 L236.1,593.9 L237.2,590.8 L238.2,589.8 L239.2,586.3 L240.3,583.9 L241.5,589.2 L242.7,592.2 L243.9,596.7 L244.9,597.9 L246.0,601.3 L247.1,603.8 L248.1,605.3 L249.2,599.1 L250.2,593.0 L251.3,587.8 L252.4,582.5 L253.6,581.9 L254.8,579.7 L256.0,577.5 L257.0,576.7 L258.0,576.9 L259.0,576.6 L260.0,576.5 L261.0,577.5 L262.1,578.9 L263.1,578.9 L264.5,574.3 L265.9,571.1 L266.9,570.2 L267.9,569.0 L268.9,567.4 L269.9,567.6 L270.9,566.1 L272.0,564.0 L273.2,563.9 L274.3,561.4 L275.5,560.8 L276.6,559.7 L277.7,560.4 L278.8,561.9 L279.9,564.7 L281.1,565.7 L282.2,565.9 L283.3,568.5 L284.4,569.0 L285.6,565.3 L286.8,562.6 L288.0,559.7 L289.1,558.2 L290.1,555.4 L291.1,551.9 L292.2,550.5 L293.3,549.1 L294.3,544.9 L295.4,542.5 L296.5,541.2 L297.5,537.7 L298.6,535.6 L299.6,533.9 L300.6,532.1 L301.6,530.9 L302.6,530.7 L303.6,529.2 L304.7,527.0 L305.8,526.2 L306.8,524.1 L307.9,522.8 L309.1,524.6 L310.3,527.5 L311.5,528.4 L312.7,532.2 L313.8,536.2 L315.0,539.8 L316.2,541.8 L317.4,541.5 L318.6,543.4 L319.8,541.9 L320.9,542.9 L322.1,541.3 L323.2,543.8 L324.4,544.4 L325.5,546.1 L326.7,549.2 L327.8,550.5 L328.9,552.7 L330.1,552.4 L331.2,555.3 L332.4,556.5 L333.5,556.9 L334.6,561.0 L335.8,564.4 L336.9,567.5 L338.1,571.2 L339.2,576.1 L340.3,578.7 L341.4,578.7 L342.4,581.4 L343.5,582.5 L344.7,584.8 L345.9,588.9 L347.1,591.0 L348.2,590.2 L349.2,588.4 L350.3,587.1 L351.4,586.8 L352.4,587.6 L353.5,587.5 L354.9,588.3 L356.4,591.0 L357.8,587.6 L359.2,585.3 L360.3,584.0 L361.4,583.3 L362.4,581.4 L363.5,579.7 L364.6,577.6 L365.6,577.4 L366.7,574.2 L367.8,573.3 L369.2,574.0 L370.6,576.8 L371.6,581.3 L372.7,586.8 L373.8,584.2 L374.9,580.8 L375.9,578.6 L377.0,576.8 L378.0,575.1 L379.0,574.1 L380.0,571.7 L381.0,570.8 L382.0,569.7 L383.1,569.3 L384.3,568.2 L385.4,566.2 L386.6,565.0 L387.7,563.3 L388.7,562.6 L389.7,560.7 L390.7,559.5 L391.8,558.6 L392.8,559.6 L393.8,558.3 L394.8,556.9 L396.0,553.7 L397.1,547.3 L398.3,544.1 L399.3,543.9 L400.4,543.0 L401.4,543.1 L402.4,541.6 L403.4,542.6 L404.5,540.1 L405.5,540.5 L406.7,541.0 L407.9,541.8 L409.2,542.5 L410.4,542.0 L411.5,543.6 L412.6,544.1 L414.0,543.8 L415.4,542.7 L416.6,545.7 L417.8,548.3 L419.0,549.8 L420.2,552.8 L421.3,556.8 L422.5,559.7 L423.6,564.0 L424.8,567.4 L425.9,569.8 L427.1,574.0 L428.2,576.8 L429.3,579.0 L430.3,579.8 L431.4,581.3 L432.5,582.2 L433.5,584.1 L434.6,585.3 L435.6,586.1 L436.6,585.4 L437.6,587.1 L438.7,588.4 L439.7,588.7 L440.7,588.9 L441.7,588.9 L442.8,588.4 L444.0,588.9 L445.1,588.2 L446.3,587.6 L447.4,587.5 L448.6,588.7 L449.8,587.5 L451.0,588.9 L452.0,588.5 L453.0,586.0 L454.0,586.4 L455.1,585.2 L456.1,583.7 L457.1,583.9 L458.1,582.5 L459.2,583.6 L460.2,584.9 L461.3,586.7 L462.4,586.8 L463.6,587.1 L464.9,587.5 L466.1,589.0 L467.3,590.3 L468.3,589.6 L469.3,587.4 L470.3,586.2 L471.4,586.7 L472.4,585.1 L473.4,583.5 L474.4,582.5 L475.6,584.3 L476.8,584.0 L478.0,585.3 L479.2,585.2 L480.4,583.7 L481.6,583.9 L482.7,584.7 L483.8,586.6 L485.0,587.8 L486.1,588.7 L487.2,588.9 L488.2,588.8 L489.3,589.5 L490.3,589.1 L491.3,588.9 L492.3,589.9 L493.4,590.8 L494.4,590.3 L495.5,591.5 L496.5,591.7 L497.6,592.6 L498.6,591.6 L499.7,591.8 L500.8,592.9 L501.8,593.0 L502.9,593.9 L504.0,593.0 L505.2,593.2 L506.3,593.3 L507.5,592.8 L508.6,592.5 L509.7,590.7 L510.8,590.4 L511.8,589.3 L512.9,586.8 L514.3,587.7 L515.7,588.9 L516.9,586.8 L518.1,585.5 L519.3,585.3 L520.4,586.1 L521.6,584.3 L522.7,585.8 L523.9,585.5 L525.0,585.3 L526.0,586.0 L527.0,588.2 L528.0,587.7 L529.0,589.1 L530.0,591.0 L531.0,591.8 L532.0,591.8 L533.0,594.5 L534.0,594.1 L535.0,594.8 L536.0,595.5 L537.0,597.4 L538.5,595.9 L539.9,593.9 L541.0,591.8 L542.0,590.3 L543.0,588.4 L544.1,586.1 L545.1,585.7 L546.2,584.9 L547.2,583.3 L548.3,581.1 L549.4,580.6 L550.4,579.6 L551.5,577.9 L552.6,576.5 L553.7,576.4 L554.8,575.9 L555.9,573.7 L557.0,573.4 L558.2,576.3 L559.4,579.8 L560.6,584.0 L561.8,586.9 L562.8,589.4 L563.9,592.2 L564.9,595.0 L566.0,596.7 L567.0,599.4 L568.0,603.6 L569.1,607.4 L570.1,609.1 L571.2,614.5 L572.2,617.1 L573.2,618.7 L574.3,618.6 L575.4,620.4 L576.4,621.9 L577.5,623.7 L578.5,623.9 L579.5,623.5 L580.5,623.8 L581.6,624.3 L582.6,623.3 L583.6,625.1 L584.7,626.5 L585.7,626.6 L586.8,628.1 L587.8,628.9 L588.8,628.2 L589.9,629.2 L591.0,629.3 L592.0,628.5 L593.0,627.3 L594.0,625.9 L595.1,623.2 L596.1,622.3 L597.1,623.8 L598.2,624.5 L599.2,625.1 L600.3,624.7 L601.3,625.9 L602.4,625.4 L603.4,626.4 L604.5,630.4 L605.5,633.4 L606.5,635.4 L607.6,638.9 L608.6,639.2 L609.7,641.2 L610.7,642.7 L611.7,644.4 L612.8,645.0 L613.8,646.2 L614.8,644.4 L615.9,645.4 L616.9,643.0 L618.0,643.9 L619.0,641.8 L620.1,641.4 L621.1,641.0 L622.1,639.2 L623.2,635.3 L624.2,632.9 L625.2,631.3 L626.3,629.3 L627.3,626.4 L628.3,624.7 L629.4,622.0 L630.5,620.1 L631.5,616.7 L632.5,615.3 L633.6,611.9 L634.6,610.1 L635.7,609.5 L636.7,609.3 L637.7,607.8 L638.7,607.9 L639.8,606.8 L640.8,605.6 L641.9,602.2 L642.9,599.4 L644.0,595.2 L645.0,589.9 L646.0,584.0 L647.1,578.7 L648.1,574.4 L649.1,568.2 L650.1,563.5 L651.2,556.5 L652.2,552.3 L653.3,547.0 L654.4,540.5 L655.4,534.9 L656.4,533.8 L657.5,531.7 L658.5,531.2 L659.5,529.8 L660.2,540.1 L660.9,529.8 L662.1,530.2 L663.3,530.8 L664.4,530.0 L665.6,532.4 L666.8,531.8 L667.8,530.9 L668.9,529.7 L670.0,529.7 L671.0,528.2 L672.0,527.1 L673.1,526.2 L674.1,526.9 L675.2,525.9 L676.2,527.2 L677.2,527.3 L678.3,528.8 L679.3,529.0 L680.4,527.9 L681.4,528.7 L682.8,528.7 L682.8,545.3 L683.5,535.0 L684.5,536.8 L685.6,538.0 L686.6,540.6 L687.6,543.3 L688.7,545.4 L689.7,546.4 L690.7,547.0 L691.8,547.2 L692.8,547.6 L693.9,549.1 L694.9,549.5 L695.9,550.1 L697.0,548.0 L698.0,548.5 L699.0,550.7 L700.1,550.6 L701.1,552.5 L702.1,554.1 L703.2,556.7 L704.2,557.8 L705.2,560.3 L706.3,563.2 L707.4,566.7 L708.4,568.4 L709.5,572.6 L710.5,574.1 L711.6,577.9 L712.6,580.7 L713.6,582.8 L714.7,585.2 L715.7,588.6 L716.8,591.0 L717.8,593.4 L718.8,596.1 L719.9,599.0 L720.9,601.5 L721.9,603.2 L723.0,605.7 L724.0,609.0 L725.0,611.5 L726.1,613.6 L727.1,616.0 L728.1,620.1 L729.2,622.9 L730.2,626.8 L731.3,628.8 L732.3,632.7 L733.4,636.4 L734.6,639.6 L735.8,643.0 L736.9,644.8 L738.1,648.0 L739.2,651.5 L740.2,656.6 L741.2,659.2 L742.3,665.0 L743.3,668.1 L744.3,670.4 L745.4,670.2 L746.4,671.9 L747.5,674.4 L748.5,675.4 L749.5,675.0 L750.6,674.8 L751.6,676.6 L752.7,675.9 L753.8,676.9 L754.8,676.4 L755.8,676.2 L756.9,677.4 L757.9,678.7 L759.0,677.8 L760.0,679.5 L761.0,680.9 L762.1,684.1 L763.1,685.8 L764.1,689.0 L765.2,691.4 L766.2,691.8 L767.3,694.9 L768.3,697.2 L769.3,701.6 L770.4,704.9 L771.4,709.2 L772.4,711.9 L773.4,715.5 L774.5,719.5 L775.5,724.2 L776.6,725.3 L777.8,728.5 L778.9,730.5 L780.1,732.7 L781.2,734.6 L782.4,731.1 L783.7,728.4 L784.9,726.3 L784.9,713.8 L785.5,722.0 L786.6,719.9 L787.7,719.9 L788.9,718.8 L790.0,717.3 L791.1,714.9 L792.1,713.2 L793.2,712.4 L794.2,713.6 L795.3,711.8 L796.3,709.3 L797.4,707.5 L798.4,704.1 L799.4,702.0 L800.5,699.7 L801.5,697.2 L802.5,698.9 L803.6,701.2 L804.6,701.8 L805.7,705.2 L806.7,706.6 L807.7,708.6 L808.8,708.4 L809.8,710.2 L810.9,712.1 L811.9,712.8 L813.0,713.8 L814.0,714.6 L815.0,715.7 L816.1,717.7 L817.2,717.8 L818.2,720.1 L819.2,721.5 L820.2,721.8 L821.3,722.1 L822.3,722.2 L823.3,721.3 L824.4,719.1 L825.4,716.9 L826.5,715.6 L827.5,713.7 L828.5,713.1 L829.6,711.0 L830.6,708.6 L831.6,706.9 L832.7,707.1 L833.8,705.5 L834.8,704.4 L835.9,703.3 L836.9,701.4 L837.9,699.1 L839.0,698.1 L840.0,696.0 L841.0,693.5 L842.1,691.6 L843.1,689.5 L844.2,686.6 L845.2,684.7 L846.2,681.7 L847.3,676.9 L848.3,674.0 L849.3,670.8 L850.4,666.4 L851.4,664.0 L852.5,660.6 L853.5,658.1 L854.5,654.9 L855.6,651.5 L856.6,648.3 L857.7,647.3 L858.7,644.1 L859.7,641.1 L860.8,636.9 L861.8,633.8 L862.9,629.6 L863.9,627.9 L865.0,626.0 L866.0,623.8 L867.1,623.3 L868.1,620.3 L869.1,619.1 L870.2,617.6 L871.2,616.2 L872.2,614.1 L873.2,614.8 L874.3,612.3 L875.3,613.2 L876.4,613.0 L877.4,611.6 L878.4,611.5 L879.5,610.3 L880.5,610.9 L881.5,611.6 L882.6,613.3 L883.6,614.0 L884.7,615.7 L885.7,618.5 L886.8,619.1 L887.8,620.3 L888.8,619.3 L889.9,619.3 L890.9,617.2 L891.9,617.8 L893.0,619.1 L894.0,618.8 L895.1,619.6 L896.1,619.3 L896.1,624.4 L896.8,618.0 L897.9,615.8 L899.0,615.7 L900.2,614.8 L901.3,613.0 L902.3,609.6 L903.4,609.1 L904.5,605.0 L905.5,603.3 L906.5,600.2 L907.6,598.5 L908.6,596.1 L909.7,593.9 L910.7,590.3 L911.8,589.8 L912.8,586.2 L913.8,584.0 L914.9,581.7 L915.9,579.1 L916.9,580.5 L918.0,582.0 L919.0,584.4 L920.0,585.9 L921.1,587.0 L922.1,589.1 L923.1,593.0 L924.2,595.6 L925.2,598.4 L926.2,602.4 L927.3,605.4 L928.3,609.9 L929.3,611.1 L930.3,614.5 L931.3,615.7 L932.4,618.8 L933.4,620.4 L934.4,621.9 L935.4,622.1 L936.5,625.4 L937.5,626.5 L938.6,625.8 L939.6,628.0 L940.7,627.4 L941.8,624.8 L942.9,623.4 L944.0,621.9 L945.1,621.5 L946.1,618.5 L947.2,617.8 L948.2,617.3 L949.3,614.9 L950.5,612.5 L951.6,609.0 L952.8,606.1 L953.8,603.9 L954.8,600.3 L955.8,596.6 L956.8,592.2 L957.8,590.1 L958.8,586.5 L959.8,583.3 L960.8,581.3 L961.8,579.7 L962.8,579.4 L963.9,577.2 L964.9,576.6 L965.9,575.4 L966.9,575.9 L967.9,575.6 L969.0,575.3 L970.0,576.2 L971.0,576.0 L972.0,576.3 L973.1,576.7 L974.1,576.0 L975.2,576.9 L976.2,576.6 L977.3,575.4 L978.3,577.9 L979.4,578.7 L980.4,580.4 L981.5,584.0 L982.5,585.1 L983.6,586.6 L984.6,587.1 L985.7,587.4 L986.7,588.1 L987.8,589.5 L988.8,590.1 L989.8,590.1 L990.8,590.4 L991.8,590.8 L992.8,591.3 L993.8,590.3 L994.8,591.2 L995.9,589.7 L997.0,590.3 L998.1,589.2 L999.2,588.1 L1000.3,585.2 L1001.4,584.3 L1002.5,583.8 L1003.6,583.3 L1004.6,582.6 L1005.7,582.5 L1006.7,580.9 L1007.8,581.3 L1008.8,580.7 L1009.9,579.8 L1010.9,579.8 L1012.0,581.1 L1013.0,580.8 L1014.1,580.7 L1015.3,580.4 L1016.4,579.2 L1017.6,578.9 L1018.8,578.9 L1019.9,578.3 L1021.1,578.9 L1022.2,577.9 L1023.2,578.1 L1024.3,577.7 L1025.4,576.3 L1026.4,576.1 L1027.5,576.9 L1028.5,579.2 L1029.5,579.5 L1030.6,580.6 L1031.6,580.7 L1032.7,579.1 L1033.9,578.5 L1035.0,577.2 L1036.1,577.4 L1037.2,575.4 L1038.4,575.0 L1039.5,573.7 L1040.5,574.8 L1041.5,573.3 L1042.5,573.8 L1043.6,574.2 L1044.6,574.6 L1045.6,573.7 L1046.6,572.8 L1047.6,571.9 L1048.6,570.5 L1049.6,571.5 L1050.6,569.0 L1051.6,568.2 L1052.6,568.4 L1053.6,567.5 L1054.6,566.4 L1055.6,565.8 L1056.6,564.0 L1057.6,564.0 L1058.6,561.5 L1059.6,561.4 L1060.7,559.2 L1061.8,558.7 L1062.9,555.9 L1064.0,555.3 L1065.0,550.8 L1066.0,547.6 L1067.0,543.5 L1068.1,538.5 L1069.1,534.1 L1070.1,530.8 L1071.1,526.5 L1072.1,523.3 L1073.1,518.5 L1074.1,514.0 L1075.1,511.3 L1076.1,507.0 L1077.1,502.8 L1078.2,502.3 L1079.2,501.0 L1080.3,499.5 L1081.3,497.1 L1082.4,495.8 L1083.4,497.5 L1084.5,497.5 L1085.5,498.5 L1086.6,499.7 L1087.6,501.0 L1088.6,504.7 L1089.6,507.4 L1090.6,508.7 L1091.6,511.7 L1092.6,514.5 L1093.6,517.2 L1094.6,520.3 L1095.7,523.9 L1096.7,527.7 L1097.8,531.1 L1098.8,535.8 L1099.9,539.5 L1100.9,543.0 L1102.0,545.2 L1103.0,548.7 L1104.1,550.9 L1105.1,553.6 L1106.1,555.3 L1107.1,558.9 L1108.1,561.6 L1109.1,562.6 L1110.1,564.4 L1111.1,567.9 L1112.1,570.2 L1113.2,571.5 L1114.2,572.8 L1115.3,574.9 L1116.3,575.4 L1117.4,576.3 L1118.4,579.0 L1119.4,579.4 L1120.5,582.6 L1121.5,585.1 L1122.5,585.6 L1123.5,588.6 L1124.6,588.7 L1125.8,591.1 L1126.9,592.4 L1128.1,591.6 L1129.2,593.5 L1130.4,594.7 L1131.7,594.5 L1132.9,596.7 L1134.1,597.0 L1135.3,595.9 L1136.5,593.6 L1137.8,592.1 L1139.0,591.3 L1140.2,589.8 L1141.5,587.1 L1142.7,585.6 L1143.9,582.9 L1145.0,581.0 L1146.0,579.3 L1147.1,579.0 L1148.1,576.7 L1149.2,574.7 L1150.2,573.1 L1151.2,572.7 L1152.2,572.6 L1153.2,572.1 L1154.3,572.0 L1155.3,570.4 L1156.3,570.8 L1157.3,569.6 L1158.3,568.7 L1159.4,567.9 L1160.5,566.6 L1161.5,564.7 L1162.5,564.7 L1163.6,564.2 L1164.7,563.6 L1165.7,561.9 L1166.9,563.6 L1168.2,564.8 L1169.4,566.6 L1170.6,567.5 L1171.8,566.4 L1173.0,563.8 L1174.3,562.1 L1175.5,560.5 L1176.7,558.3 L1178.0,558.2 L1179.2,557.4 L1180.4,554.9 L1181.6,551.8 L1182.8,548.6 L1184.1,545.8 L1185.3,543.7 L1186.3,542.1 L1187.4,540.4 L1188.5,540.5 L1189.5,538.1 L1190.5,536.3 L1191.6,536.0 L1192.7,534.8 L1193.7,535.1 L1194.8,534.5 L1195.8,533.1 L1197.0,534.2 L1198.2,535.7 L1199.5,538.3 L1200.7,540.2 L1202.1,544.2 L1203.5,547.9 L1204.6,549.8 L1205.8,548.8 L1206.9,550.0 L1208.1,551.1 L1209.2,552.8 L1210.4,551.9 L1211.5,551.8 L1212.7,552.1 L1213.9,554.0 L1215.0,555.1 L1216.2,556.3 L1217.3,555.3 L1218.4,554.8 L1219.6,554.6 L1220.7,553.9 L1221.8,554.2 L1222.9,553.9 L1224.0,552.1 L1225.2,551.8 L1226.3,551.5 L1227.4,550.0 L1228.5,549.8 L1229.5,549.1 L1230.5,550.3 L1231.6,549.3 L1232.6,549.3 L1233.7,547.2 L1234.8,546.8 L1235.8,545.8 L1236.8,547.2 L1237.9,546.5 L1239.0,546.2 L1240.0,547.2 L1241.0,547.1 L1242.1,549.9 L1243.2,550.5 L1244.2,550.7 L1245.2,550.8 L1246.3,551.5 L1247.4,551.8 L1248.4,552.1 L1249.5,552.5 L1250.5,554.9 L1251.5,555.1 L1252.6,555.6 L1253.6,556.2 L1254.7,557.0 L1255.8,559.2 L1256.8,560.5 L1258.0,562.7 L1259.2,566.1 L1260.5,568.3 L1261.7,570.3 L1262.8,573.0 L1263.8,574.4 L1264.9,576.9 L1266.0,580.1 L1267.2,579.7 L1268.5,579.6 L1269.7,580.9 L1270.9,580.1 L1272.0,580.7 L1273.1,581.5 L1274.3,582.9 L1275.4,581.8 L1276.5,582.9 L1277.5,580.5 L1278.6,577.2 L1279.7,576.1 L1280.7,573.1 L1281.8,570.3 L1282.8,570.3 L1283.9,568.6 L1284.9,566.1 L1286.0,565.4 L1287.0,562.4 L1288.0,561.4 L1289.1,560.5 L1290.3,558.2 L1291.4,554.0 L1292.6,552.1 L1294.0,550.0 L1295.4,547.9 L1296.5,547.5 L1297.5,548.2 L1298.5,547.0 L1299.6,546.5 L1299.6,541.6 L1300.2,546.0 L1301.2,546.7 L1302.2,545.5 L1303.3,546.5 L1304.3,545.7 L1305.3,545.8 L1306.4,546.4 L1307.5,544.2 L1308.5,545.4 L1309.6,543.7 L1310.7,544.1 L1311.8,543.6 L1312.8,545.1 L1313.9,545.8 L1314.9,548.0 L1316.0,549.3 L1317.1,548.7 L1318.2,549.2 L1319.3,550.2 L1320.4,548.6 L1321.5,548.9 L1322.7,549.2 L1323.9,550.4 L1325.1,551.7 L1326.3,552.0 L1327.5,553.1 L1328.6,555.3 L1329.8,556.3 L1330.8,555.9 L1331.9,556.9 L1332.9,557.5 L1334.0,559.1 L1335.0,558.5 L1335.0,553.3 L1335.6,558.0 L1336.9,560.4 L1338.1,561.6 L1339.4,562.9 L1340.5,562.8 L1341.5,564.5 L1342.6,566.2 L1343.6,566.2 L1344.7,567.7 L1345.8,569.0 L1346.8,570.0 L1347.9,570.2 L1349.0,572.5 L1350.3,573.2 L1351.7,571.7 L1352.7,573.1 L1353.8,572.6 L1354.8,574.3 L1355.9,574.4 L1356.9,575.6 L1358.0,573.9 L1359.1,572.8 L1360.2,570.9 L1361.3,569.9 L1362.6,569.1 L1363.9,569.0 L1365.0,568.4 L1366.1,568.7 L1367.2,567.5 L1368.3,567.7 L1369.4,568.0 L1370.5,570.2 L1371.6,570.3 L1372.7,571.7 L1374.0,574.2 L1375.3,574.7 L1376.6,573.7 L1377.9,572.5 L1378.9,573.1 L1379.9,572.4 L1380.9,573.6 L1381.9,573.0" fill="none" stroke="#3cb371" stroke-width="2.9" stroke-linejoin="round" stroke-linecap="butt" clip-path="url(#c2)"/>
<rect x="156.5" y="1.5" width="1226" height="392" fill="none" stroke="#000" stroke-width="1.2"/>
<line x1="151" y1="40.5" x2="156.5" y2="40.5" stroke="#000" stroke-width="1.2"/>
<line x1="151" y1="119.5" x2="156.5" y2="119.5" stroke="#000" stroke-width="1.2"/>
<line x1="151" y1="197.5" x2="156.5" y2="197.5" stroke="#000" stroke-width="1.2"/>
<line x1="151" y1="276.5" x2="156.5" y2="276.5" stroke="#000" stroke-width="1.2"/>
<line x1="151" y1="354.5" x2="156.5" y2="354.5" stroke="#000" stroke-width="1.2"/>
<line x1="156.5" y1="393.5" x2="156.5" y2="399" stroke="#000" stroke-width="1.2"/>
<line x1="360.5" y1="393.5" x2="360.5" y2="399" stroke="#000" stroke-width="1.2"/>
<line x1="565.5" y1="393.5" x2="565.5" y2="399" stroke="#000" stroke-width="1.2"/>
<line x1="769.5" y1="393.5" x2="769.5" y2="399" stroke="#000" stroke-width="1.2"/>
<line x1="973.5" y1="393.5" x2="973.5" y2="399" stroke="#000" stroke-width="1.2"/>
<line x1="1178.5" y1="393.5" x2="1178.5" y2="399" stroke="#000" stroke-width="1.2"/>
<line x1="1382.5" y1="393.5" x2="1382.5" y2="399" stroke="#000" stroke-width="1.2"/>
<rect x="156.5" y="440.5" width="1226" height="393" fill="none" stroke="#000" stroke-width="1.2"/>
<line x1="151" y1="480.5" x2="156.5" y2="480.5" stroke="#000" stroke-width="1.2"/>
<line x1="151" y1="558.5" x2="156.5" y2="558.5" stroke="#000" stroke-width="1.2"/>
<line x1="151" y1="637.5" x2="156.5" y2="637.5" stroke="#000" stroke-width="1.2"/>
<line x1="151" y1="715.5" x2="156.5" y2="715.5" stroke="#000" stroke-width="1.2"/>
<line x1="151" y1="793.5" x2="156.5" y2="793.5" stroke="#000" stroke-width="1.2"/>
<line x1="156.5" y1="833.5" x2="156.5" y2="839" stroke="#000" stroke-width="1.2"/>
<line x1="360.5" y1="833.5" x2="360.5" y2="839" stroke="#000" stroke-width="1.2"/>
<line x1="565.5" y1="833.5" x2="565.5" y2="839" stroke="#000" stroke-width="1.2"/>
<line x1="769.5" y1="833.5" x2="769.5" y2="839" stroke="#000" stroke-width="1.2"/>
<line x1="973.5" y1="833.5" x2="973.5" y2="839" stroke="#000" stroke-width="1.2"/>
<line x1="1178.5" y1="833.5" x2="1178.5" y2="839" stroke="#000" stroke-width="1.2"/>
<line x1="1382.5" y1="833.5" x2="1382.5" y2="839" stroke="#000" stroke-width="1.2"/>
<text class="yd" x="126.05" y="51.99" font-size="33.4" textLength="19.51" lengthAdjust="spacingAndGlyphs">1</text>
<text class="yd" x="126.79" y="130.99" font-size="33.4" textLength="18.81" lengthAdjust="spacingAndGlyphs">0</text>
<text class="yd" x="125.34" y="208.99" font-size="33.4" textLength="18.98" lengthAdjust="spacingAndGlyphs">1</text>
<rect x="102.1" y="197.15" width="20.5" height="2.7" fill="#000"/>
<text class="yd" x="124.97" y="287.99" font-size="33.4" textLength="18.83" lengthAdjust="spacingAndGlyphs">2</text>
<rect x="102.1" y="276.15" width="20.5" height="2.7" fill="#000"/>
<text class="yd" x="127.0" y="365.99" font-size="33.4" textLength="18.58" lengthAdjust="spacingAndGlyphs">3</text>
<rect x="103.1" y="354.15" width="20.4" height="2.7" fill="#000"/>
<text class="yd" x="126.05" y="491.99" font-size="33.4" textLength="19.51" lengthAdjust="spacingAndGlyphs">1</text>
<text class="yd" x="126.79" y="569.99" font-size="33.4" textLength="18.81" lengthAdjust="spacingAndGlyphs">0</text>
<text class="yd" x="125.34" y="648.99" font-size="33.4" textLength="18.98" lengthAdjust="spacingAndGlyphs">1</text>
<rect x="102.1" y="637.15" width="20.5" height="2.7" fill="#000"/>
<text class="yd" x="124.97" y="726.99" font-size="33.4" textLength="18.83" lengthAdjust="spacingAndGlyphs">2</text>
<rect x="102.1" y="715.15" width="20.5" height="2.7" fill="#000"/>
<text class="yd" x="127.0" y="804.99" font-size="33.4" textLength="18.58" lengthAdjust="spacingAndGlyphs">3</text>
<rect x="103.1" y="793.15" width="20.4" height="2.7" fill="#000"/>
<text x="155.30" y="866.3" font-size="33.4" text-anchor="middle" textLength="91" lengthAdjust="spacingAndGlyphs">23:30</text>
<text x="359.30" y="866.3" font-size="33.4" text-anchor="middle" textLength="91" lengthAdjust="spacingAndGlyphs">00:00</text>
<text x="564.30" y="866.3" font-size="33.4" text-anchor="middle" textLength="91" lengthAdjust="spacingAndGlyphs">00:30</text>
<text x="768.30" y="866.3" font-size="33.4" text-anchor="middle" textLength="91" lengthAdjust="spacingAndGlyphs">01:00</text>
<text x="972.30" y="866.3" font-size="33.4" text-anchor="middle" textLength="91" lengthAdjust="spacingAndGlyphs">01:30</text>
<text x="1177.30" y="866.3" font-size="33.4" text-anchor="middle" textLength="91" lengthAdjust="spacingAndGlyphs">02:00</text>
<text x="1381.30" y="866.3" font-size="33.4" text-anchor="middle" textLength="91" lengthAdjust="spacingAndGlyphs">02:30</text>
<text class="xl" x="464.35" y="909.2" font-size="42.5" textLength="223.91" lengthAdjust="spacingAndGlyphs">2025-09-01</text>
<text class="xl" x="701.34" y="909.2" font-size="42.5" textLength="15.86" lengthAdjust="spacingAndGlyphs">-</text>
<text class="xl" x="728.92" y="909.2" font-size="42.5" textLength="224.04" lengthAdjust="spacingAndGlyphs">2025-09-02</text>
<text class="xl" x="968.61" y="909.2" font-size="42.5" textLength="104.92" lengthAdjust="spacingAndGlyphs">(UTC)</text>
<text class="yl" transform="translate(34.9,714.71) rotate(-90)" x="0" y="0" font-size="49" textLength="132.22" lengthAdjust="spacingAndGlyphs">direct</text>
<text class="yl" transform="translate(34.9,565.82) rotate(-90)" x="0" y="0" font-size="49" textLength="169.39" lengthAdjust="spacingAndGlyphs">current</text>
<text class="yl" transform="translate(34.9,381.66) rotate(-90)" x="0" y="0" font-size="49" textLength="100.57" lengthAdjust="spacingAndGlyphs">bias</text>
<text class="yl" transform="translate(34.9,272.01) rotate(-90)" x="0" y="0" font-size="49" textLength="67.76" lengthAdjust="spacingAndGlyphs">(A)</text>
<line x1="183" y1="334" x2="246" y2="334" stroke="#ff0000" stroke-width="2.1"/>
<text class="lw" x="270.22" y="322.8" font-size="31" textLength="107.98" lengthAdjust="spacingAndGlyphs">filtered</text>
<text class="lw" x="386.9" y="322.8" font-size="31" textLength="82.87" lengthAdjust="spacingAndGlyphs">FOCS</text>
<text class="lw" x="478.83" y="322.8" font-size="31" textLength="67.09" lengthAdjust="spacingAndGlyphs">data</text>
<text class="lf" x="270.54" y="358.2" font-size="31" font-style="italic" textLength="10.87" lengthAdjust="spacingAndGlyphs">f</text>
<text x="280.5" y="362.8" font-size="21.5" textLength="31" lengthAdjust="spacingAndGlyphs">lim</text>
<text x="320.5" y="358.2" font-size="31" textLength="23.5" lengthAdjust="spacingAndGlyphs">=</text>
<text x="361.3" y="358.2" font-size="31" textLength="47" lengthAdjust="spacingAndGlyphs">0.5</text>
<text x="419.5" y="358.2" font-size="31" textLength="38" lengthAdjust="spacingAndGlyphs">Hz</text>
<line x1="183" y1="775" x2="246" y2="775" stroke="#3cb371" stroke-width="2.1"/>
<text x="268.3" y="765.9" font-size="31" textLength="198" lengthAdjust="spacingAndGlyphs">neutral point</text>
<text x="278.5" y="798.5" font-size="31" textLength="101.5" lengthAdjust="spacingAndGlyphs">sensor</text>
</svg></body></html>
